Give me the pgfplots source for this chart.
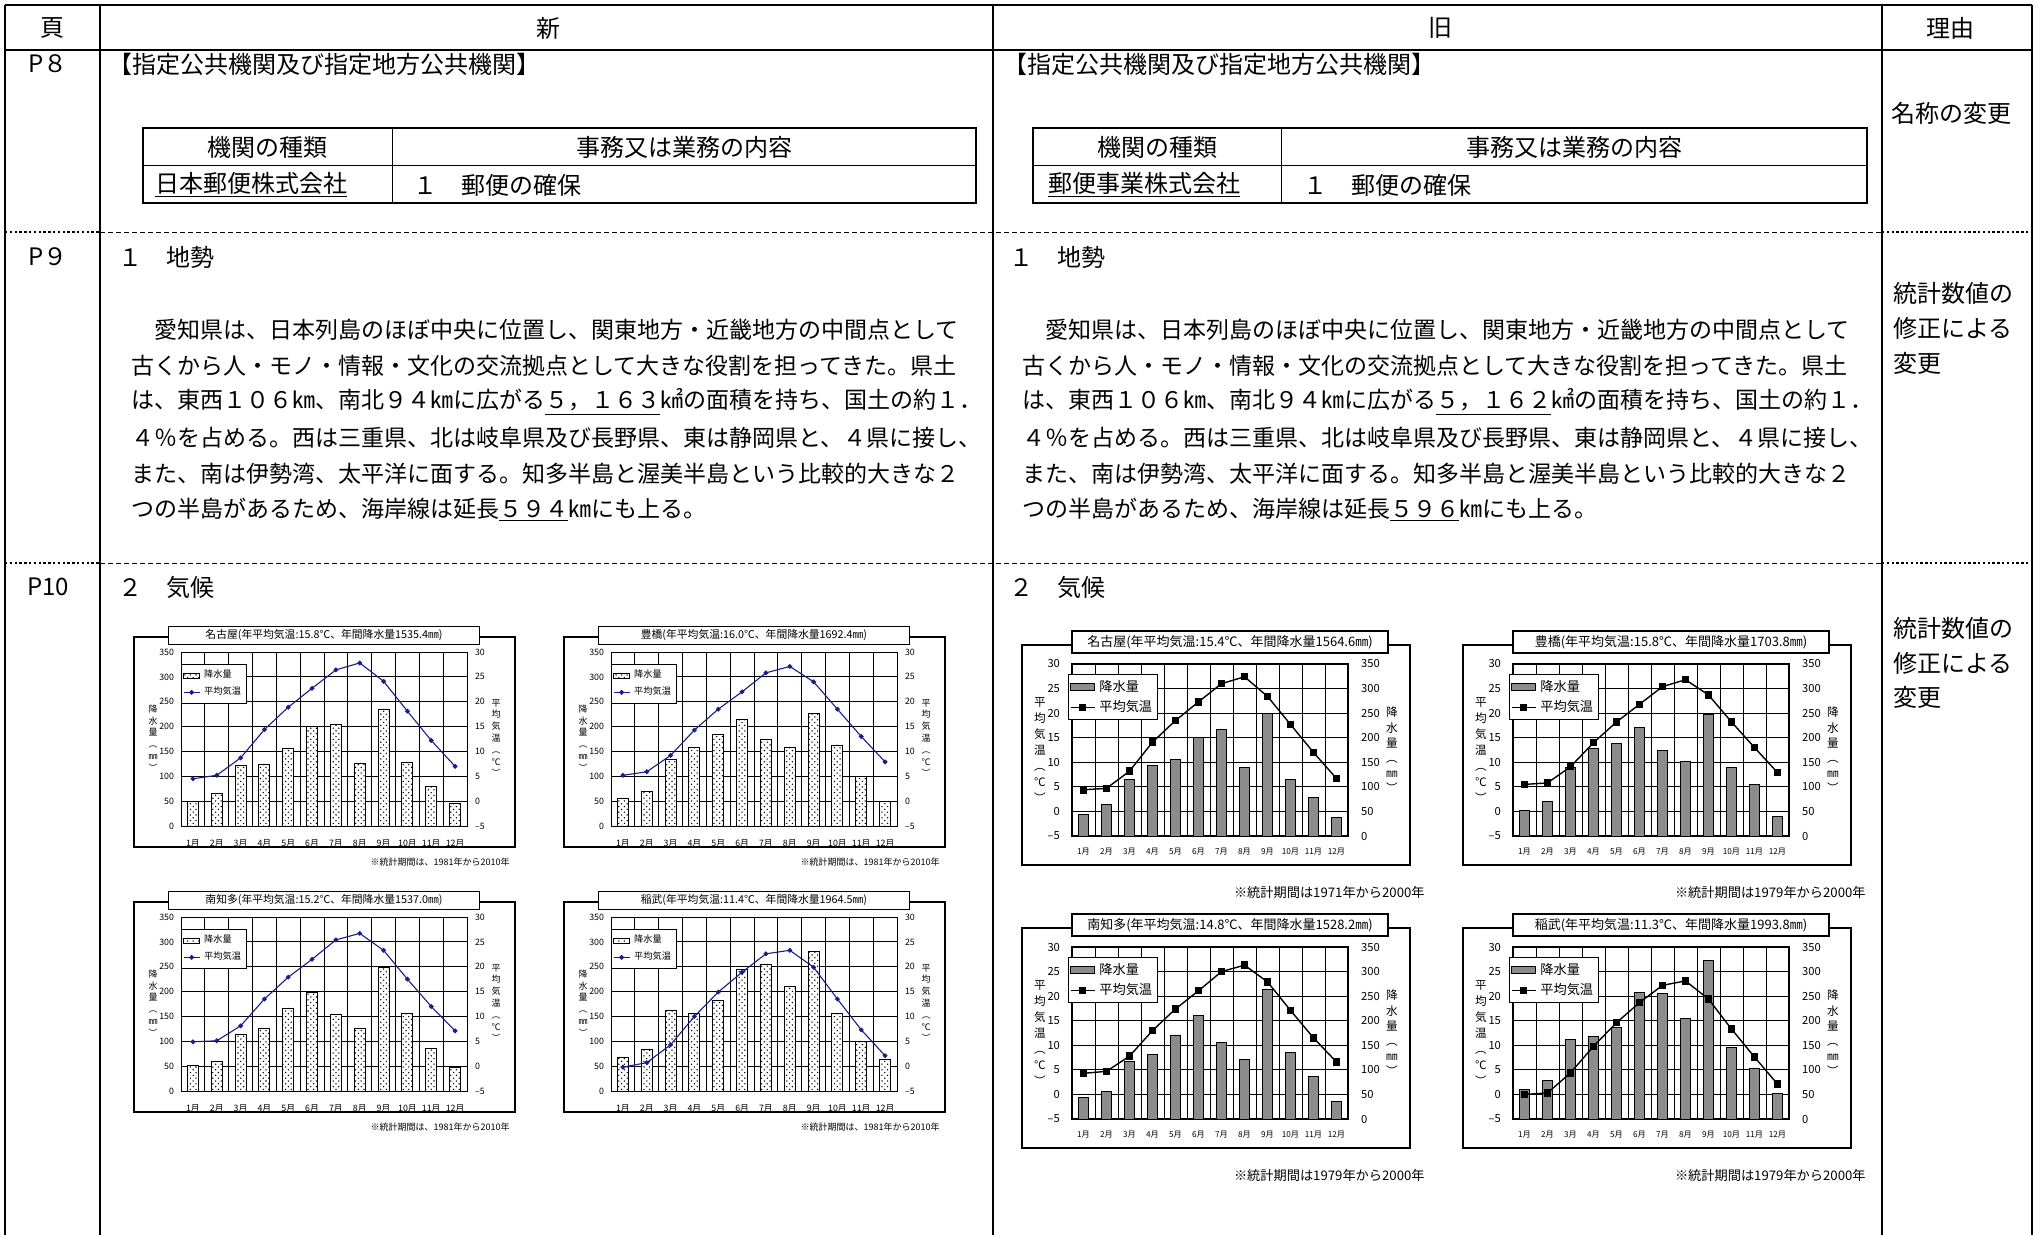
\documentclass[border=0pt]{standalone}
\usepackage{pgfplots}
\pgfplotsset{compat=1.18}
\usepackage{pgfplotstable}
\usepackage{fontspec}
\usetikzlibrary{patterns}
\setmainfont{Noto Sans CJK JP}
\XeTeXlinebreaklocale "ja"
\XeTeXlinebreakskip=0pt plus 1pt minus 2pt

\definecolor{tline}{RGB}{25,30,135}
\definecolor{obar}{RGB}{140,140,140}

\pgfdeclarepatternformonly{bdots}{\pgfqpoint{-0.5pt}{-0.5pt}}{\pgfqpoint{1.9pt}{1.9pt}}{\pgfqpoint{2.8pt}{2.8pt}}{%
  \pgfpathcircle{\pgfqpoint{0pt}{0pt}}{0.38pt}%
  \pgfpathcircle{\pgfqpoint{1.4pt}{1.4pt}}{0.38pt}%
  \pgfusepath{fill}}

\newcommand\fs[1]{\fontsize{#1}{#1}\selectfont}

% new (1981-2010)
\pgfplotstableread{
m p t
1 48.4 4.5
2 65.6 5.2
3 121.8 8.7
4 124.8 14.4
5 156.5 18.9
6 201.0 22.7
7 203.6 26.4
8 126.3 27.8
9 234.4 24.1
10 128.3 18.1
11 79.7 12.2
12 45.0 7.0
}\tA
\pgfplotstableread{
m p t
1 56 5.2
2 70 5.9
3 134 9.2
4 159 14.3
5 184 18.5
6 215 22.0
7 175 25.8
8 159 27.1
9 226 24.0
10 163 18.5
11 99 13.0
12 49 7.9
}\tB
\pgfplotstableread{
m p t
1 51 4.9
2 60 5.1
3 114 8.1
4 126 13.5
5 167 17.9
6 199 21.5
7 155 25.4
8 125 26.7
9 248 23.3
10 157 17.5
11 86 12.0
12 48 7.1
}\tC
\pgfplotstableread{
m p t
1 67 -0.2
2 84 0.7
3 162 4.3
4 157 10.0
5 183 14.9
6 244 18.9
7 255 22.6
8 211 23.3
9 281 19.9
10 156 13.5
11 99 7.3
12 63 2.1
}\tD
% old (1971/1979-2000)
\pgfplotstableread{
m p t
1 44 4.4
2 64 4.7
3 116 8.2
4 143 14.1
5 155 18.5
6 201 22.3
7 217 26.0
8 140 27.4
9 249 23.4
10 116 17.7
11 79 12.0
12 37 6.7
}\tE
\pgfplotstableread{
m p t
1 52 5.5
2 71 5.8
3 139 9.1
4 178 14.0
5 189 18.2
6 220 21.8
7 174 25.4
8 152 26.8
9 247 23.7
10 139 18.2
11 104 13.0
12 40 7.9
}\tF
\pgfplotstableread{
m p t
1 43 4.3
2 57 4.7
3 118 7.8
4 132 13.0
5 171 17.4
6 210 21.1
7 155 25.0
8 121 26.3
9 263 22.9
10 135 17.1
11 87 11.5
12 35 6.6
}\tG
\pgfplotstableread{
m p t
1 61 0.0
2 78 0.3
3 161 4.4
4 168 9.8
5 186 14.6
6 257 18.7
7 255 22.2
8 205 23.1
9 322 19.4
10 145 13.3
11 104 7.6
12 52 2.1
}\tH

\pgfplotsset{
  base/.style={scale only axis, anchor=north west, xmin=0.5, xmax=12.5,
    major tick length=0pt, /pgf/number format/assume math mode=true},
  months/.style={xtick={1,...,12},
    xticklabels={1月,2月,3月,4月,5月,6月,7月,8月,9月,10月,11月,12月},
    extra x ticks={1.5,2.5,...,11.5}, extra x tick labels={},
    extra x tick style={grid=major}},
  barleg/.style={legend image code/.code={\draw[##1] (0pt,-1.3pt) rectangle (8pt,1.3pt);}},
  lineleg/.style={legend image code/.code={\draw[mark repeat=2,mark phase=2,##1] plot coordinates {(0pt,0pt) (4pt,0pt) (8pt,0pt)};}},
  barlegb/.style={legend image code/.code={\draw[##1] (0pt,-1.8pt) rectangle (12pt,1.8pt);}},
  linelegb/.style={legend image code/.code={\draw[mark repeat=2,mark phase=2,##1] plot coordinates {(0pt,0pt) (6pt,0pt) (12pt,0pt)};}},
}

% #1 plot left, #2 plot top (px), #3 table, #4 title, #5 note
\newcommand\newchart[5]{%
  \begin{scope}[x=0.5pt,y=-0.5pt]
    \draw[line width=0.6pt] (#1-47,#2-15) rectangle (#1+334,#2+195);
    \node[draw, line width=0.5pt, fill=white, minimum width=155.5pt, minimum height=9pt,
      inner sep=0pt, font=\fs{5.4}] at (#1+143,#2-17) {#4};
    \node[anchor=east, inner sep=0pt, font=\fs{4.5}] at (#1+329,#2+210) {#5};
    \node[align=center, inner sep=0pt, font=\fontsize{4.5}{5.9}\selectfont] at (#1-28,#2+86) {降\\水\\量\\︵\\㎜\\︶};
    \node[align=center, inner sep=0pt, font=\fontsize{4.5}{5.9}\selectfont] at (#1+315,#2+86) {平\\均\\気\\温\\︵\\℃\\︶};
  \end{scope}
  \begin{axis}[base, months, at={({#1*0.5pt},{-#2*0.5pt})}, width=143pt, height=87pt,
    ymin=0, ymax=350, ytick={0,50,...,350}, ymajorgrids,
    grid style={black, line width=0.45pt}, axis line style={line width=0.5pt},
    yticklabel style={font=\fs{4.4}}, xticklabel style={font=\fs{4.4}, yshift=-3.5pt}]
    \addplot[ybar, bar width=5.5pt, draw=black, line width=0.45pt, fill=white,
      postaction={pattern=bdots}] table[x=m,y=p] {#3};
  \end{axis}
  \begin{axis}[base, at={({#1*0.5pt},{-#2*0.5pt})}, width=143pt, height=87pt,
    ymin=-5, ymax=30, ytick={-5,0,...,30}, yticklabels={–5,0,5,10,15,20,25,30},
    axis x line=none, axis y line*=right, axis line style={line width=0.5pt},
    yticklabel style={font=\fs{4.4}, xshift=0.5pt},
    legend style={at={(0,0.93)}, anchor=north west, draw=black, line width=0.45pt,
      fill=white, font=\fs{4.6}, inner sep=0.8pt, row sep=-1pt},
    legend cell align=left]
    \addlegendimage{barleg, draw=black, fill=white, postaction={pattern=bdots}}
    \addlegendentry{降水量}
    \addplot[lineleg, tline, line width=0.55pt, mark=*, mark size=0.9pt] table[x=m,y=t] {#3};
    \addlegendentry{平均気温}
  \end{axis}
}

\newcommand\oldchart[5]{%
  \begin{scope}[x=0.5pt,y=-0.5pt]
    \draw[line width=0.6pt] (#1-50,#2-19) rectangle (#1+338,#2+201);
    \node[draw, line width=0.6pt, fill=white, minimum width=158pt, minimum height=11pt,
      inner sep=0pt, font=\fs{6.5}] at (#1+158,#2-22) {#4};
    \node[anchor=east, inner sep=0pt, font=\fs{6.6}] at (#1+353,#2+228) {#5};
    \node[align=center, inner sep=0pt, font=\fontsize{5.8}{8}\selectfont] at (#1-32,#2+86) {平\\均\\気\\温\\︵\\℃\\︶};
    \node[align=center, inner sep=0pt, font=\fontsize{5.8}{7.6}\selectfont] at (#1+320,#2+86) {降\\水\\量\\︵\\㎜\\︶};
  \end{scope}
  \begin{axis}[base, months, at={({#1*0.5pt},{-#2*0.5pt})}, width=138pt, height=86pt,
    ymin=0, ymax=350, ytick={0,50,...,350}, yticklabel pos=right, ymajorgrids,
    grid style={black, line width=0.4pt}, axis line style={line width=0.7pt},
    yticklabel style={font=\fs{5.6}, xshift=3pt}, xticklabel style={font=\fs{4.1}, yshift=-2.5pt}]
    \addplot[ybar, bar width=5.3pt, draw=black, line width=0.4pt, fill=obar] table[x=m,y=p] {#3};
  \end{axis}
  \begin{axis}[base, at={({#1*0.5pt},{-#2*0.5pt})}, width=138pt, height=86pt,
    ymin=-5, ymax=30, ytick={-5,0,...,30}, yticklabels={–5,0,5,10,15,20,25,30},
    axis x line=none, axis y line*=left, axis line style={line width=0.7pt},
    yticklabel style={font=\fs{5.6}, xshift=-2.5pt},
    legend style={at={(-0.015,0.942)}, anchor=north west, draw=black, line width=0.5pt,
      fill=white, font=\fs{6.6}, inner sep=0.8pt, row sep=-1pt},
    legend cell align=left]
    \addlegendimage{barlegb, draw=black, fill=obar}
    \addlegendentry{降水量}
    \addplot[linelegb, black, line width=0.7pt, mark=square*, mark size=1.5pt] table[x=m,y=t] {#3};
    \addlegendentry{平均気温}
  \end{axis}
}

\begin{document}
\begin{tikzpicture}
\begin{scope}[x=0.5pt,y=-0.5pt]
  \path[use as bounding box] (0,0) rectangle (2038,1235);
  % table frame
  \draw[line width=1pt] (5,5) -- (2032,5);
  \draw[line width=0.8pt] (5,50) -- (2032,50);
  \foreach \xx in {5,100,993,1882,2032} \draw[line width=0.9pt] (\xx,5) -- (\xx,1235);
  \foreach \yy in {232,563} {
    \draw[line width=1.1pt, dash pattern=on 1.2pt off 1.2pt] (5,\yy) -- (100,\yy);
    \draw[line width=0.45pt, dash pattern=on 2.5pt off 1.5pt] (100,\yy) -- (1882,\yy);
    \draw[line width=1.1pt, dash pattern=on 1.2pt off 1.2pt] (1882,\yy) -- (2032,\yy);
  }
  % inner tables
  \draw[line width=1pt] (143,128) rectangle (976,203);
  \draw[line width=0.5pt] (143,166) -- (976,166) (392,128) -- (392,203);
  \draw[line width=1pt] (1033,128) rectangle (1867,203);
  \draw[line width=0.5pt] (1033,166) -- (1867,166) (1281,128) -- (1281,203);

  \begin{scope}[every node/.style={inner sep=0pt, font=\fs{12}}]
    \node at (52,28) {頁};
    \node at (548,28) {新};
    \node at (1440,28) {旧};
    \node at (1950,28) {理由};
    % P8
    \node at (48,64) {P８};
    \node[anchor=west] at (108,64) {【指定公共機関及び指定地方公共機関】};
    \node[anchor=west] at (1003,64) {【指定公共機関及び指定地方公共機関】};
    \node at (267,147) {機関の種類};
    \node at (684,147) {事務又は業務の内容};
    \node[anchor=west] at (155,185) {\underline{日本郵便株式会社}};
    \node[anchor=west] at (413,185) {１　郵便の確保};
    \node at (1157,147) {機関の種類};
    \node at (1574,147) {事務又は業務の内容};
    \node[anchor=west] at (1048,185) {\underline{郵便事業株式会社}};
    \node[anchor=west] at (1303,185) {１　郵便の確保};
    \node[anchor=west] at (1891,113) {名称の変更};
    % P9
    \node at (48,257) {P９};
    \node[anchor=west] at (118,257) {１　地勢};
    \node[anchor=west] at (1009,257) {１　地勢};
    \node[anchor=west] at (1893,293) {統計数値の};
    \node[anchor=west] at (1893,328) {修正による};
    \node[anchor=west] at (1893,363) {変更};
    % P10
    \node at (48,587) {P10};
    \node[anchor=west] at (118,587) {２　気候};
    \node[anchor=west] at (1009,587) {２　気候};
    \node[anchor=west] at (1893,628) {統計数値の};
    \node[anchor=west] at (1893,663) {修正による};
    \node[anchor=west] at (1893,697) {変更};
  \end{scope}

  \begin{scope}[every node/.style={inner sep=0pt, anchor=west, font=\fs{11.5}}]
    \node at (131,330) {\makebox[421pt][s]{　愛知県は、日本列島のほぼ中央に位置し、関東地方・近畿地方の中間点として}};
    \node at (131,366) {\makebox[421pt][s]{古くから人・モノ・情報・文化の交流拠点として大きな役割を担ってきた。県土}};
    \node at (131,402) {\makebox[421pt][s]{は、東西１０６㎞、南北９４㎞に広がる\underline{５，１６３}㎢の面積を持ち、国土の約１．}};
    \node at (131,438) {\makebox[421pt][s]{４％を占める。西は三重県、北は岐阜県及び長野県、東は静岡県と、４県に接し、}};
    \node at (131,474) {\makebox[421pt][s]{また、南は伊勢湾、太平洋に面する。知多半島と渥美半島という比較的大きな２}};
    \node at (131,510) {つの半島があるため、海岸線は延長\underline{５９４}㎞にも上る。};
    \node at (1022,330) {\makebox[421pt][s]{　愛知県は、日本列島のほぼ中央に位置し、関東地方・近畿地方の中間点として}};
    \node at (1022,366) {\makebox[421pt][s]{古くから人・モノ・情報・文化の交流拠点として大きな役割を担ってきた。県土}};
    \node at (1022,402) {\makebox[421pt][s]{は、東西１０６㎞、南北９４㎞に広がる\underline{５，１６２}㎢の面積を持ち、国土の約１．}};
    \node at (1022,438) {\makebox[421pt][s]{４％を占める。西は三重県、北は岐阜県及び長野県、東は静岡県と、４県に接し、}};
    \node at (1022,474) {\makebox[421pt][s]{また、南は伊勢湾、太平洋に面する。知多半島と渥美半島という比較的大きな２}};
    \node at (1022,510) {つの半島があるため、海岸線は延長\underline{５９６}㎞にも上る。};
  \end{scope}
\end{scope}

\newchart{181}{652}{\tA}{名古屋(年平均気温:15.8℃、年間降水量1535.4㎜)}{※統計期間は、1981年から2010年}
\newchart{611}{652}{\tB}{豊橋(年平均気温:16.0℃、年間降水量1692.4㎜)}{※統計期間は、1981年から2010年}
\newchart{181}{917}{\tC}{南知多(年平均気温:15.2℃、年間降水量1537.0㎜)}{※統計期間は、1981年から2010年}
\newchart{611}{917}{\tD}{稲武(年平均気温:11.4℃、年間降水量1964.5㎜)}{※統計期間は、1981年から2010年}

\oldchart{1072}{664}{\tE}{名古屋(年平均気温:15.4℃、年間降水量1564.6㎜)}{※統計期間は1971年から2000年}
\oldchart{1513}{664}{\tF}{豊橋(年平均気温:15.8℃、年間降水量1703.8㎜)}{※統計期間は1979年から2000年}
\oldchart{1072}{947}{\tG}{南知多(年平均気温:14.8℃、年間降水量1528.2㎜)}{※統計期間は1979年から2000年}
\oldchart{1513}{947}{\tH}{稲武(年平均気温:11.3℃、年間降水量1993.8㎜)}{※統計期間は1979年から2000年}
\end{tikzpicture}
\end{document}
